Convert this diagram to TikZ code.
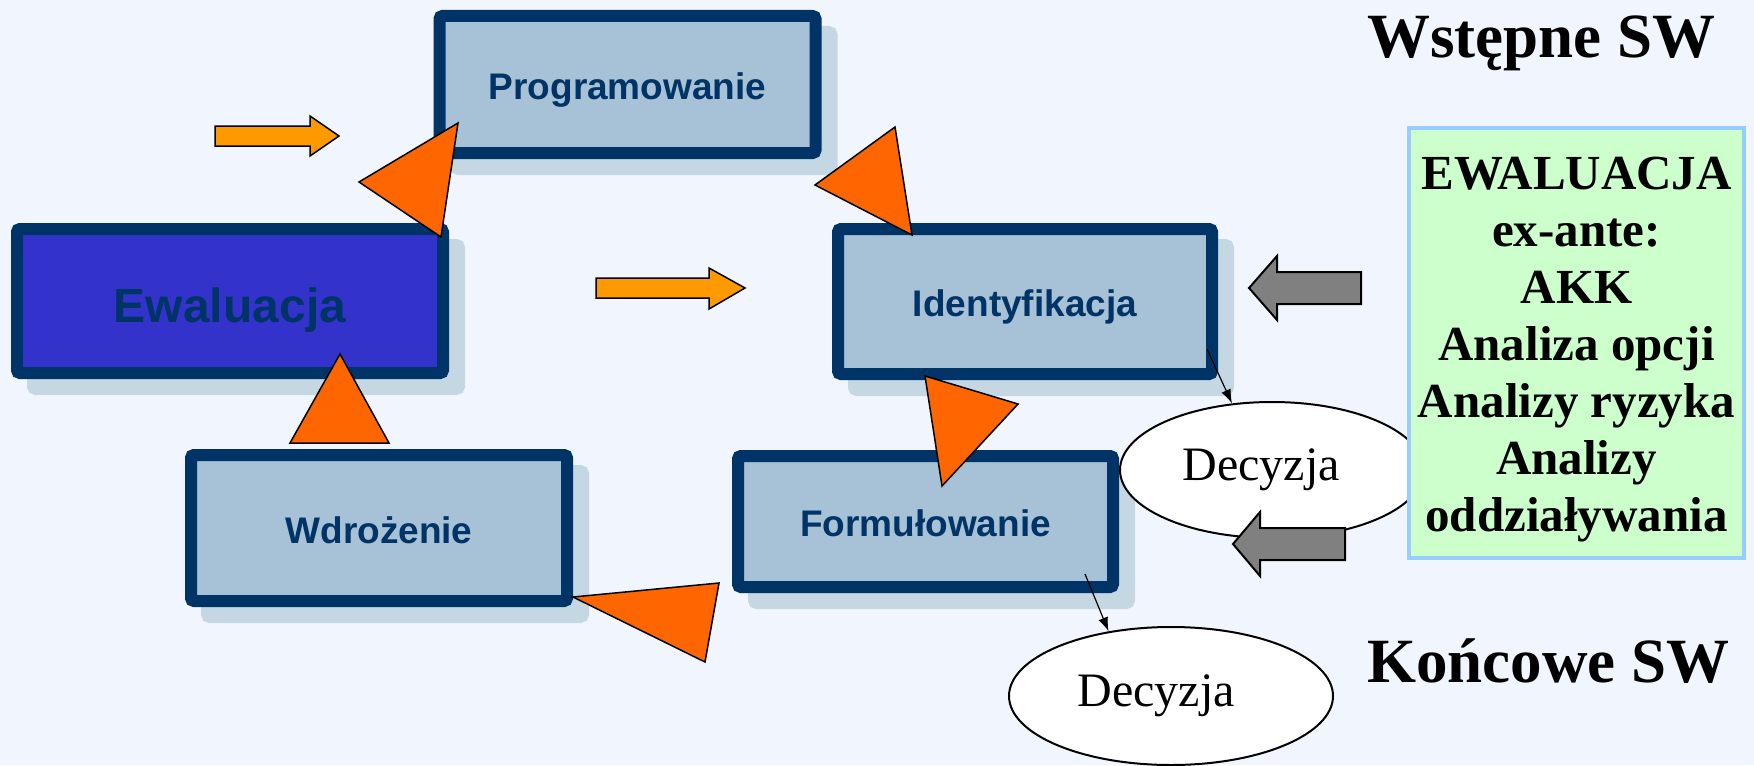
\documentclass[tikz,border=0pt]{standalone}
\usepackage{fontspec}
\setmainfont{Liberation Serif}
\setsansfont{Liberation Sans}
\usetikzlibrary{arrows.meta,shapes.geometric}
\definecolor{tlo}{HTML}{F1F5FD}
\definecolor{granat}{HTML}{003366}
\definecolor{blekit}{HTML}{A7C1D6}
\definecolor{cien}{HTML}{C6D7E4}
\definecolor{fiolet}{HTML}{3333CC}
\definecolor{zielen}{HTML}{CCFFCC}
\definecolor{ramka}{HTML}{99CCFF}
\definecolor{pomarancz}{HTML}{FF9900}
\definecolor{czerwien}{HTML}{FF6600}
\definecolor{szary}{HTML}{808080}
\tikzset{
  etap/.style={rectangle, draw=granat, line width=6pt, fill=blekit, rounded corners=1.5pt,
    minimum width=188pt, minimum height=72.5pt, inner sep=0pt, text=granat,
    text height=15pt, text depth=0pt,
    font=\sffamily\bfseries\fontsize{18.5}{22}\selectfont,
    preaction={draw=cien, fill=cien, line width=6pt, transform canvas={shift={(8pt,-8pt)}}}},
  decyzja/.style={ellipse, draw, line width=1pt, fill=white, inner sep=0pt},
  ocena/.style={rectangle, draw=ramka, line width=2pt, fill=zielen, inner sep=0pt,
    minimum width=167.5pt, minimum height=215pt},
  ocenatxt/.style={inner sep=0pt, align=center, font=\bfseries\fontsize{24.5}{28.5}\selectfont},
  tytul/.style={anchor=base west, inner sep=0pt, font=\bfseries\fontsize{31.5}{36}\selectfont},
  strzalka/.style={draw, line width=0.6pt, -{Latex[length=7pt,width=5pt]}}
}
\begin{document}
\begin{tikzpicture}[x=0.5pt,y=-0.5pt] % jednostka = piksel obrazu
  \fill[tlo] (0,0) rectangle (1754,765);
  \useasboundingbox (0,0) rectangle (1754,765);
    % Etapy cyklu
  \node[etap, minimum height=68.5pt] (prog) at (627.5,84.5) {Programowanie};
  \node[etap, fill=fiolet, minimum width=213pt, minimum height=72pt, text height=21pt,
        font=\sffamily\bfseries\fontsize{24}{28}\selectfont] (ewal) at (230,301) {Ewaluacja};
  \node[etap, minimum width=187pt] (ident) at (1025,301.5) {Identyfikacja};
  \node[etap, minimum height=73pt] (wdro) at (379,528) {Wdrożenie};
  \node[etap, minimum width=187.5pt, minimum height=65.5pt] (form) at (925.5,521.5) {Formułowanie};
    % Decyzje
  \node[decyzja, minimum width=152pt, minimum height=68pt,
        label={[xshift=-5.5pt, font=\fontsize{24}{28}\selectfont]center:Decyzja}] (dec1) at (1272,470) {};
  \node[decyzja, minimum width=162pt, minimum height=69pt,
        label={[xshift=-7.5pt, font=\fontsize{24}{28}\selectfont]center:Decyzja}] (dec2) at (1171,696) {};
  \draw[strzalka] ([shift={(-11,-31)}]ident.south east) -- (dec1.121);
  \draw[strzalka] ([shift={(-34,-19)}]form.south east) -- (dec2.134);
    % Ewaluacja ex-ante
  \node[ocena] (exante) at (1576.5,343) {};
  \node[ocenatxt] (exantetxt) at ([yshift=-3.5pt]exante.center)
    {EWALUACJA\\ex-ante:\\AKK\\Analiza opcji\\Analizy ryzyka\\Analizy\\oddziaływania};
  \filldraw[fill=szary, line width=1pt] (1361,272) -- (1277,272) -- (1277,256) -- (1249,288)
    -- (1277,320) -- (1277,304) -- (1361,304) -- cycle;
  \filldraw[fill=szary, line width=1pt] (1345,528) -- (1260,528) -- (1260,512) -- (1233,544)
    -- (1260,576) -- (1260,560) -- (1345,560) -- cycle;
    % Strzalki pomaranczowe
  \filldraw[fill=pomarancz, line width=0.75pt] (215,126) -- (310,126) -- (310,116) -- (339,136)
    -- (310,156) -- (310,146) -- (215,146) -- cycle;
  \filldraw[fill=pomarancz, line width=0.75pt] (596,278) -- (709,278) -- (709,268) -- (745,288)
    -- (709,309) -- (709,298) -- (596,298) -- cycle;
    % Trojkaty
  \filldraw[fill=czerwien, line width=0.75pt] (458,123) -- (359,182) -- (441,237) -- cycle;
  \filldraw[fill=czerwien, line width=0.75pt] (895,127) -- (815,185) -- (912,235) -- cycle;
  \filldraw[fill=czerwien, line width=0.75pt] (925,376) -- (1018,404) -- (942,486) -- cycle;
  \filldraw[fill=czerwien, line width=0.75pt] (340,354) -- (290,443) -- (389,443) -- cycle;
  \filldraw[fill=czerwien, line width=0.75pt] (573,597) -- (719,583) -- (705,662) -- cycle;
    % Napisy
  \node[tytul] (wstepne) at (1367,58) {Wstępne SW};
  \node[tytul] (koncowe) at (1367,682) {Końcowe SW};
\end{tikzpicture}
\end{document}
